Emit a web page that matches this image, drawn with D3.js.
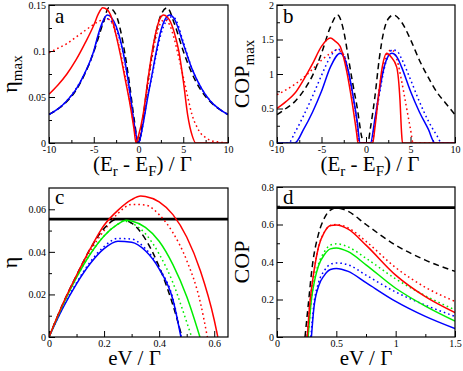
<!DOCTYPE html>
<html>
<head>
<meta charset="utf-8">
<script src="https://cdn.jsdelivr.net/npm/d3@7"></script>
<style>
  body { margin: 0; background: #fff; }
  text { font-family: 'Liberation Serif', 'Times New Roman', serif; }
</style>
</head>
<body>
<div id="chart"></div>
<script>
// ---- panel a : eta_max vs (Er - EF)/Gamma ----
let aBlackDashed = [[-10,0.031],[-9,0.037],[-8,0.045],[-7,0.057],[-6,0.075],[-5,0.099],[-4,0.129],[-3.3,0.147],[-2.5,0.139],[-2,0.122],[-1.5,0.096],[-1,0.064],[-0.5,0.027],[0,0],[0.5,0.027],[1,0.064],[1.5,0.096],[2,0.122],[2.5,0.139],[3.2,0.147],[4,0.13],[5,0.1],[6,0.075],[7,0.057],[8,0.045],[9,0.037],[10,0.031]]
let aBlueSolid = [[-10,0.031],[-9,0.037],[-8,0.046],[-7,0.058],[-6,0.076],[-5,0.1],[-4.5,0.118],[-4,0.132],[-3.5,0.139],[-3,0.136],[-2.5,0.127],[-2,0.111],[-1.5,0.088],[-1,0.058],[-0.5,0.022],[0,0],[0.5,0.02],[1,0.048],[1.5,0.074],[2,0.1],[2.5,0.122],[3,0.135],[3.5,0.139],[4,0.135],[5,0.108],[6,0.08],[7,0.06],[8,0.046],[9,0.037],[10,0.031]]
let aBlueDotted = [[-10,0.031],[-8,0.046],[-6,0.076],[-5,0.099],[-4.5,0.116],[-4,0.13],[-3.5,0.135],[-3,0.132],[-2.5,0.124],[-2,0.109],[-1.5,0.087],[-1,0.057],[-0.5,0.022],[0,0],[0.5,0.02],[1,0.05],[1.5,0.072],[2,0.097],[2.5,0.118],[3,0.131],[3.5,0.137],[4,0.136],[5,0.11],[6,0.08],[7,0.06],[8,0.046],[9,0.037],[10,0.031]]
let aRedSolid = [[-10,0.053],[-9,0.063],[-8,0.075],[-7,0.09],[-6,0.108],[-5,0.128],[-4.5,0.14],[-4,0.147],[-3.5,0.145],[-3,0.136],[-2.5,0.117],[-2,0.095],[-1.5,0.07],[-1,0.045],[-0.5,0.015],[-0.28,0],[0,0.008],[0.5,0.03],[1,0.065],[1.5,0.098],[2,0.123],[2.5,0.137],[2.8,0.139],[3.2,0.137],[3.5,0.133],[4,0.12],[4.5,0.1],[5,0.068],[5.5,0.03],[6,0.008],[6.4,0],[10,0]]
let aRedDotted = [[-10,0.098],[-9,0.103],[-8,0.108],[-7,0.115],[-6,0.122],[-5,0.129],[-4.5,0.132],[-4,0.134],[-3.5,0.135],[-3,0.131],[-2.5,0.118],[-2,0.098],[-1.5,0.074],[-1,0.047],[-0.5,0.018],[-0.2,0],[0.3,0.015],[1,0.06],[1.5,0.092],[2,0.117],[2.5,0.131],[2.9,0.134],[3.5,0.128],[4,0.113],[4.5,0.093],[5,0.072],[5.5,0.05],[6,0.03],[6.5,0.018],[7,0.01],[7.5,0.006],[8,0.003],[9,0.001],[10,0]]

// ---- panel b : COP_max vs (Er - EF)/Gamma ----
let bBlackDashed = [[-10,0.41],[-9,0.5],[-8,0.6],[-7,0.76],[-6,0.98],[-5,1.3],[-4,1.68],[-3.2,1.855],[-2.5,1.62],[-2,1.25],[-1.5,0.87],[-1,0.52],[-0.5,0.1],[-0.3,0],[0.2,0],[0.5,0.22],[1,0.67],[1.5,1.23],[2,1.62],[2.5,1.8],[3.1,1.855],[4,1.75],[5,1.5],[6,1.2],[7,0.95],[8,0.73],[9,0.57],[10,0.41]]
let bRedSolid = [[-10,0.5],[-9,0.6],[-8,0.72],[-7,0.92],[-6,1.15],[-5,1.4],[-4,1.52],[-3.5,1.48],[-2.9,1.4],[-2.2,1.06],[-1.6,0.62],[-1.05,0.14],[-0.9,0],[0.75,0],[1,0.22],[1.4,0.67],[1.8,1.08],[2.33,1.3],[2.8,1.25],[3.45,1.1],[3.82,0.62],[4.0,0.14],[4.1,0],[10,0]]
let bRedDotted = [[-10,0.7],[-9,0.77],[-8,0.85],[-7,0.95],[-6,1.07],[-5,1.2],[-4,1.3],[-3.3,1.35],[-2.5,1.28],[-2,1.05],[-1.5,0.7],[-1,0.3],[-0.75,0],[0.7,0],[1,0.3],[1.5,0.8],[2,1.15],[2.5,1.32],[2.9,1.35],[3.5,1.2],[4,0.9],[4.5,0.55],[5,0.2],[5.3,0],[10,0]]
let bBlueSolid = [[-10,0],[-8,0],[-7,0.2],[-6,0.45],[-5,0.75],[-4,1.1],[-2.9,1.3],[-2.5,1.25],[-2,1.05],[-1.5,0.72],[-1,0.32],[-0.65,0],[0.5,0],[1,0.35],[1.5,0.75],[2,1.08],[2.5,1.26],[2.9,1.3],[3.5,1.24],[4,1.1],[5,0.75],[6,0.45],[7,0.2],[7.75,0],[10,0]]
let bBlueDotted = [[-10,0],[-8.7,0],[-8,0.15],[-7,0.4],[-6,0.68],[-5,0.98],[-4,1.25],[-3.2,1.36],[-2.5,1.28],[-2,1.05],[-1.5,0.7],[-1,0.3],[-0.7,0],[0.55,0],[1,0.3],[1.5,0.7],[2,1.05],[2.5,1.27],[3,1.35],[3.5,1.33],[4,1.22],[5,0.92],[6,0.6],[7,0.32],[8,0.1],[8.5,0],[10,0]]

// ---- panel c : eta vs eV/Gamma ----
let cBound = 0.0554
let cRedSolid = [[0,0],[0.05,0.0155],[0.1,0.029],[0.15,0.0415],[0.2,0.0525],[0.25,0.0595],[0.3,0.0645],[0.333,0.0662],[0.35,0.066],[0.4,0.0635],[0.45,0.0575],[0.5,0.047],[0.55,0.031],[0.6,0.008],[0.613,0]]
let cRedDotted = [[0,0],[0.05,0.0153],[0.1,0.0285],[0.15,0.0405],[0.2,0.05],[0.25,0.058],[0.3,0.0623],[0.35,0.062],[0.4,0.0575],[0.45,0.049],[0.5,0.036],[0.55,0.016],[0.575,0]]
let cGreenSolid = [[0,0],[0.05,0.015],[0.1,0.028],[0.15,0.039],[0.2,0.0475],[0.25,0.053],[0.28,0.0549],[0.3,0.0545],[0.35,0.0515],[0.4,0.045],[0.45,0.034],[0.5,0.019],[0.548,0]]
let cGreenDotted = [[0,0],[0.05,0.015],[0.1,0.028],[0.15,0.039],[0.2,0.0475],[0.25,0.053],[0.27,0.0545],[0.3,0.0535],[0.35,0.0485],[0.4,0.039],[0.45,0.0255],[0.5,0.007],[0.518,0]]
let cBlackDashed = [[0,0],[0.05,0.0155],[0.1,0.029],[0.15,0.0415],[0.2,0.051],[0.25,0.0555],[0.3,0.0535],[0.35,0.046],[0.4,0.033],[0.45,0.015],[0.483,0]]
let cBlueSolid = [[0,0],[0.05,0.0135],[0.1,0.025],[0.15,0.0345],[0.2,0.0415],[0.25,0.045],[0.3,0.0445],[0.35,0.0405],[0.4,0.032],[0.45,0.0175],[0.479,0]]
let cBlueDotted = [[0,0],[0.05,0.0137],[0.1,0.0255],[0.15,0.0353],[0.2,0.0425],[0.25,0.0463],[0.3,0.046],[0.35,0.0415],[0.4,0.0325],[0.45,0.018],[0.48,0]]

// ---- panel d : COP vs eV/Gamma ----
let dBound = 0.69
let dBlackDashed = [[0.236,0],[0.26,0.15],[0.3,0.39],[0.35,0.55],[0.4,0.635],[0.45,0.677],[0.5,0.688],[0.55,0.683],[0.6,0.67],[0.75,0.6],[1,0.49],[1.25,0.41],[1.5,0.35]]
let dRedSolid = [[0.255,0],[0.28,0.2],[0.3,0.3],[0.35,0.48],[0.4,0.56],[0.45,0.595],[0.5,0.598],[0.6,0.575],[0.75,0.49],[1,0.33],[1.25,0.215],[1.5,0.13]]
let dRedDotted = [[0.255,0],[0.28,0.2],[0.3,0.3],[0.35,0.48],[0.4,0.56],[0.45,0.595],[0.5,0.6],[0.6,0.582],[0.75,0.51],[1,0.37],[1.25,0.265],[1.5,0.19]]
let dGreenSolid = [[0.262,0],[0.29,0.2],[0.32,0.31],[0.35,0.38],[0.4,0.44],[0.45,0.47],[0.5,0.475],[0.6,0.455],[0.75,0.385],[1,0.26],[1.25,0.165],[1.5,0.085]]
let dGreenDotted = [[0.262,0],[0.29,0.2],[0.32,0.32],[0.35,0.39],[0.4,0.455],[0.45,0.49],[0.5,0.497],[0.6,0.48],[0.75,0.42],[1,0.31],[1.25,0.22],[1.5,0.145]]
let dBlueSolid = [[0.29,0],[0.31,0.15],[0.35,0.27],[0.4,0.33],[0.45,0.36],[0.5,0.366],[0.6,0.35],[0.75,0.29],[1,0.19],[1.25,0.11],[1.5,0.045]]
let dBlueDotted = [[0.285,0],[0.31,0.17],[0.35,0.29],[0.4,0.355],[0.45,0.388],[0.5,0.395],[0.6,0.385],[0.75,0.33],[1,0.24],[1.25,0.17],[1.5,0.11]]

// tick values
let erTicks = [-10, -5, 0, 5, 10]
let erMinor = [-7.5, -2.5, 2.5, 7.5]
let etaMaxTicks = [0, 0.05, 0.1, 0.15]
let etaMaxMinor = [0.025, 0.075, 0.125]
let copMaxTicks = [0, 0.5, 1, 1.5, 2]
let copMaxMinor = [0.25, 0.75, 1.25, 1.75]
let evTicksC = [0, 0.2, 0.4, 0.6]
let evMinorC = [0.1, 0.3, 0.5]
let etaTicks = [0, 0.02, 0.04, 0.06]
let etaMinor = [0.01, 0.03, 0.05]
let evTicksD = [0, 0.5, 1, 1.5]
let evMinorD = [0.25, 0.75, 1.25]
let copTicks = [0, 0.2, 0.4, 0.6, 0.8]
let copMinor = [0.1, 0.3, 0.5, 0.7]

let red = '#ff0000'
let green = '#00ee00'
let blue = '#0000ff'
let serif = "'Liberation Serif', 'Times New Roman', serif"

let svg = d3
  .select('#chart')
  .append('svg')
  .attr('width', 463)
  .attr('height', 371)

let fmt = d => String(+d.toFixed(3))

function drawPanel(p) {
  let x = d3.scaleLinear().domain(p.xDomain).range([0, p.w])
  let y = d3.scaleLinear().domain(p.yDomain).range([p.h, 0])

  let g = svg.append('g').attr('transform', `translate(${p.left},${p.top})`)

  g.append('clipPath')
    .attr('id', 'clip-' + p.name)
    .append('rect')
    .attr('width', p.w)
    .attr('height', p.h)

  // minor ticks
  g.append('g')
    .attr('transform', `translate(0,${p.h})`)
    .call(d3.axisBottom(x).tickValues(p.xMinor).tickSize(-3).tickFormat(''))
  g.append('g')
    .call(d3.axisLeft(y).tickValues(p.yMinor).tickSize(-3).tickFormat(''))

  // major ticks
  g.append('g')
    .attr('transform', `translate(0,${p.h})`)
    .call(d3.axisBottom(x).tickValues(p.xTicks).tickSize(-6).tickPadding(3).tickFormat(fmt))
  g.append('g')
    .call(d3.axisLeft(y).tickValues(p.yTicks).tickSize(-6).tickPadding(3).tickFormat(fmt))

  g.selectAll('.domain').remove()
  g.selectAll('g').attr('font-family', serif)
  g.selectAll('.tick line').attr('stroke', '#000')
  g.selectAll('.tick text')
    .attr('fill', '#000')
    .attr('font-size', 10)

  let line = d3
    .line()
    .x(d => x(d[0]))
    .y(d => y(d[1]))
    .curve(d3.curveMonotoneX)

  let plot = g.append('g').attr('clip-path', `url(#clip-${p.name})`)

  if (p.bound !== undefined) {
    plot.append('line')
      .attr('x1', 0)
      .attr('x2', p.w)
      .attr('y1', y(p.bound))
      .attr('y2', y(p.bound))
      .attr('stroke', '#000')
      .attr('stroke-width', 2.6)
  }

  plot.selectAll('path.series')
    .data(p.series)
    .enter()
    .append('path')
    .attr('class', 'series')
    .attr('d', d => line(d.data))
    .attr('fill', 'none')
    .attr('stroke', d => d.color)
    .attr('stroke-width', 1.5)
    .attr('stroke-dasharray', d => (d.style === 'dot' ? '1.6,3' : d.style === 'dash' ? '6,4' : null))

  // frame
  g.append('rect')
    .attr('width', p.w)
    .attr('height', p.h)
    .attr('fill', 'none')
    .attr('stroke', '#000')
    .attr('stroke-width', 1.2)

  // panel letter
  g.append('text')
    .attr('x', 6)
    .attr('y', p.letterY)
    .style('font-family', serif)
    .style('font-size', '21px')
    .text(p.name)

  // x title
  let xt = g.append('text')
    .attr('x', p.w / 2 + p.xTitleShift)
    .attr('y', p.h + p.xTitleDy)
    .attr('text-anchor', 'middle')
    .style('font-family', serif)
    .style('font-size', '21px')
  p.xTitle(xt)

  // y title
  let yt = g.append('text')
    .attr('transform', `translate(${p.yTitleDx},${p.h / 2}) rotate(-90)`)
    .attr('text-anchor', 'middle')
    .style('font-family', serif)
    .style('font-size', '22px')
  p.yTitle(yt)
}

function erTitle(t) {
  t.append('tspan').text('(E')
  t.append('tspan').attr('dy', 5).style('font-size', '15px').text('r')
  t.append('tspan').attr('dy', -5).text('  -  E')
  t.append('tspan').attr('dy', 5).style('font-size', '15px').text('F')
  t.append('tspan').attr('dy', -5).text(')  /  Γ')
}

function evTitle(t) {
  t.text('eV / Γ')
}

function withMax(label) {
  return function(t) {
    t.append('tspan').text(label)
    t.append('tspan').attr('dy', 5).style('font-size', '15px').text('max')
  }
}

drawPanel({
  name: 'a', left: 49, top: 5, w: 179, h: 138,
  xDomain: [-10, 10], yDomain: [0, 0.15],
  xTicks: erTicks, xMinor: erMinor, yTicks: etaMaxTicks, yMinor: etaMaxMinor,
  letterY: 18, xTitleDy: 28, xTitleShift: 4, yTitleDx: -32,
  xTitle: erTitle, yTitle: withMax('η'),
  series: [
    { data: aRedDotted, color: red, style: 'dot' },
    { data: aBlueDotted, color: blue, style: 'dot' },
    { data: aBlackDashed, color: '#000', style: 'dash' },
    { data: aBlueSolid, color: blue, style: 'solid' },
    { data: aRedSolid, color: red, style: 'solid' }
  ]
})

drawPanel({
  name: 'b', left: 277, top: 5, w: 178, h: 138,
  xDomain: [-10, 10], yDomain: [0, 2],
  xTicks: erTicks, xMinor: erMinor, yTicks: copMaxTicks, yMinor: copMaxMinor,
  letterY: 18, xTitleDy: 28, xTitleShift: 4, yTitleDx: -28,
  xTitle: erTitle, yTitle: withMax('COP'),
  series: [
    { data: bRedDotted, color: red, style: 'dot' },
    { data: bBlueDotted, color: blue, style: 'dot' },
    { data: bBlackDashed, color: '#000', style: 'dash' },
    { data: bBlueSolid, color: blue, style: 'solid' },
    { data: bRedSolid, color: red, style: 'solid' }
  ]
})

drawPanel({
  name: 'c', left: 49, top: 188, w: 179, h: 149,
  xDomain: [0, 0.65], yDomain: [0, 0.07],
  xTicks: evTicksC, xMinor: evMinorC, yTicks: etaTicks, yMinor: etaMinor,
  letterY: 16, xTitleDy: 28, xTitleShift: -4, yTitleDx: -32, bound: cBound,
  xTitle: evTitle, yTitle: t => t.text('η'),
  series: [
    { data: cRedDotted, color: red, style: 'dot' },
    { data: cGreenDotted, color: green, style: 'dot' },
    { data: cBlueDotted, color: blue, style: 'dot' },
    { data: cBlackDashed, color: '#000', style: 'dash' },
    { data: cBlueSolid, color: blue, style: 'solid' },
    { data: cGreenSolid, color: green, style: 'solid' },
    { data: cRedSolid, color: red, style: 'solid' }
  ]
})

drawPanel({
  name: 'd', left: 277, top: 187, w: 178, h: 150,
  xDomain: [0, 1.5], yDomain: [0, 0.8],
  xTicks: evTicksD, xMinor: evMinorD, yTicks: copTicks, yMinor: copMinor,
  letterY: 17, xTitleDy: 28, xTitleShift: 0, yTitleDx: -28, bound: dBound,
  xTitle: evTitle, yTitle: t => t.text('COP'),
  series: [
    { data: dRedDotted, color: red, style: 'dot' },
    { data: dGreenDotted, color: green, style: 'dot' },
    { data: dBlueDotted, color: blue, style: 'dot' },
    { data: dBlackDashed, color: '#000', style: 'dash' },
    { data: dBlueSolid, color: blue, style: 'solid' },
    { data: dGreenSolid, color: green, style: 'solid' },
    { data: dRedSolid, color: red, style: 'solid' }
  ]
})
</script>
</body>
</html>
